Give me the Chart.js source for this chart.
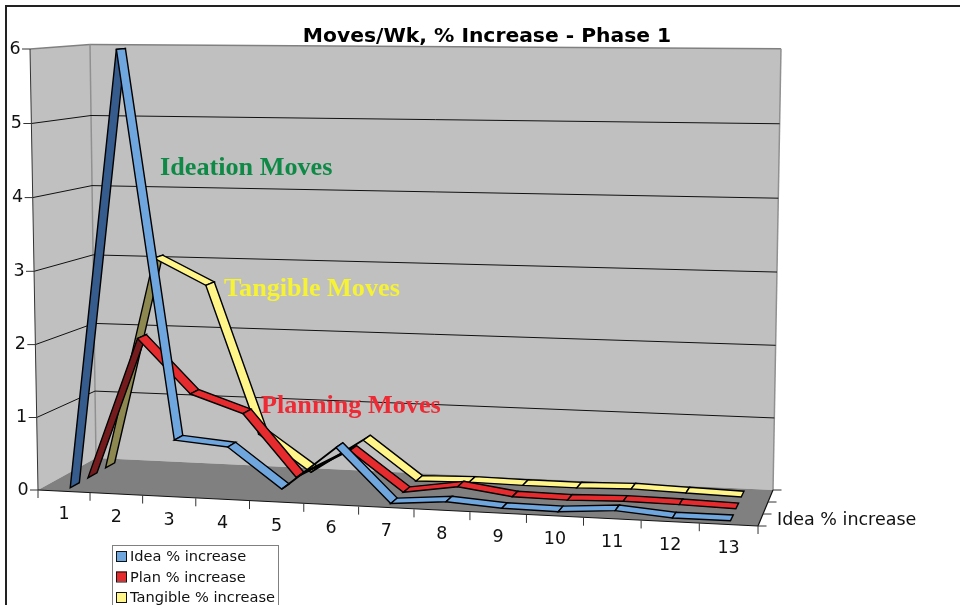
<!DOCTYPE html>
<html><head><meta charset="utf-8">
<style>html,body{margin:0;padding:0;background:#fff}canvas{display:block}</style>
<script src="https://cdn.jsdelivr.net/npm/chart.js@4"></script>
</head><body><canvas id="c" width="960" height="605"></canvas>
<script>
const categories=['1','2','3','4','5','6','7','8','9','10','11','12','13'];
const ideaValues=[0,6,0.72,0.66,0.13,0.72,0.01,0.07,0.02,0.01,0.06,0,0];
const planValues=[0,1.97,1.23,0.99,0.15,0.55,0.02,0.13,0.03,0.02,0.04,0.03,0.01];
const tangibleValues=[0,3.0,2.64,0.58,0.08,0.56,0.03,0.05,0.04,0.04,0.06,0.04,0.02];
const seriesNames=['Idea % increase','Plan % increase','Tangible % increase'];
const depthLabel='Idea % increase';
const titleText='Moves/Wk, % Increase - Phase 1';
const notes=[
 {text:'Ideation Moves',color:'#0E8A46',x:160,y:175},
 {text:'Tangible Moves',color:'#F6F234',x:224,y:296},
 {text:'Planning Moves',color:'#EE2A35',x:261,y:413}];
const lightColors=['#6FA6DE','#E52B2E','#FFF588'];
const darkColors=['#355C8C','#741B1E','#8C8850'];
const depthBands=[[0.11,0.27],[0.42,0.58],[0.73,0.89]];

const lerp=(a,b,t)=>a+(b-a)*t;
const Fx=u=>38+51.76*u+0.279*u*u, Bx=u=>96+49.8*u+0.175*u*u;
const Fy=u=>490+u*36/13, By=u=>458+u*32/13;
function project(u,d,v){
  const t=u/13;
  const h=lerp(lerp(73.5,78,t),lerp(69,73.67,t),d);
  const lean=lerp(-1.33,1.33,t)*(1-d)+lerp(-1,1.33,t)*d;
  return {x:lerp(Fx(u),Bx(u),d)+lean*v,y:lerp(Fy(u),By(u),d)-h*v};
}
function poly(ctx,pts,fill,stroke,lw){
  ctx.beginPath();pts.forEach((p,i)=>i?ctx.lineTo(p.x,p.y):ctx.moveTo(p.x,p.y));ctx.closePath();
  if(fill){ctx.fillStyle=fill;ctx.fill();}
  if(stroke){ctx.strokeStyle=stroke;ctx.lineWidth=lw||1;ctx.stroke();}
}
function seg(ctx,x0,y0,x1,y1,c,w){ctx.beginPath();ctx.moveTo(x0,y0);ctx.lineTo(x1,y1);ctx.strokeStyle=c;ctx.lineWidth=w||1;ctx.stroke();}

const scene={
 id:'scene',
 beforeDatasetsDraw(chart){
  const ctx=chart.ctx,y=chart.scales.y,x=chart.scales.x;
  ctx.save();
  ctx.fillStyle='#222';ctx.fillRect(5,5,955,2);ctx.fillRect(5,5,2,600);
  const yv=y.ticks.map(t=>t.value);
  const frontL=v=>({x:38-1.33*v,y:y.getPixelForValue(v)+0.2*v*(6-v)});
  const backL=v=>({x:96-v,y:458-(66.5*v+0.4*v*v)});
  const backR=v=>({x:773+1.33*v,y:490-(71.75*v+0.3*v*v)});
  poly(ctx,[frontL(0),frontL(6),backL(6),backL(0)],'#C0C0C0');
  poly(ctx,[backL(0),backL(6),backR(6),backR(0)],'#C0C0C0');
  seg(ctx,backL(6).x,backL(6).y,backR(6).x,backR(6).y,'#808080',1.5);
  seg(ctx,frontL(6).x,frontL(6).y,backL(6).x,backL(6).y,'#808080',1.5);
  seg(ctx,backL(6).x,backL(6).y,backL(0).x,backL(0).y,'#909090',1.5);
  seg(ctx,backR(6).x,backR(6).y,backR(0).x,backR(0).y,'#909090',1.5);
  const fr={x:758,y:526};
  poly(ctx,[frontL(0),backL(0),backR(0),fr],'#808080');
  yv.forEach(v=>{
   if(v<=0||v>=6)return;
   const a=frontL(v),b=backL(v),c=backR(v);
   seg(ctx,a.x,a.y,b.x,b.y,'#111',1);
   seg(ctx,b.x,b.y,c.x,c.y,'#111',1);
  });
  seg(ctx,frontL(6).x,frontL(6).y,frontL(0).x,frontL(0).y,'#333',1);
  ctx.font='17.5px "DejaVu Sans"';ctx.fillStyle='#111';ctx.textAlign='center';ctx.textBaseline='middle';
  yv.forEach(v=>{
   const a=frontL(v);
   seg(ctx,a.x-8,a.y,a.x,a.y,'#333',1);
   ctx.fillStyle='#111';ctx.fillText(String(v),a.x-15,a.y);
  });
  seg(ctx,38,490,758,526,'#111',1.2);
  seg(ctx,758,526,773,490,'#111',1.2);
  for(let t=0;t<=categories.length;t++){
   const px=Fx(t),py=Fy(t);
   seg(ctx,px,py,px,py+8,'#333',1);
  }
  const W=x.right-x.left;
  categories.forEach((c,i)=>{
   const u=(x.getPixelForValue(i)-x.left)/W*13;
   ctx.fillStyle='#111';ctx.fillText(c,Fx(u),Fy(u)+23.5);
  });
  [0,1,2,3].forEach(k=>{
   const px=lerp(758,773,k/3),py=lerp(526,490,k/3);
   seg(ctx,px,py,px+8.5,py,'#333',1);
  });
  ctx.textAlign='left';ctx.fillStyle='#111';
  ctx.fillText(depthLabel,777,520);
  ctx.restore();
 },
 afterDatasetsDraw(chart){
  const ctx=chart.ctx,xs=chart.scales.x,ys=chart.scales.y,W=xs.right-xs.left;
  ctx.save();
  ctx.lineJoin='miter';
  [2,1,0].forEach(k=>{
   const meta=chart.getDatasetMeta(k),[d0,d1]=depthBands[k];
   const pts=meta.data.map(e=>({u:(e.x-xs.left)/W*13,v:ys.getValueForPixel(e.y)}));
   for(let i=0;i<pts.length-1;i++){
    const a=pts[i],b=pts[i+1];
    const A=project(a.u,d0,a.v),B=project(b.u,d0,b.v),C=project(b.u,d1,b.v),D=project(a.u,d1,a.v);
    const rising=A.y-B.y>20;
    poly(ctx,[A,B,C,D],rising?darkColors[k]:lightColors[k],'#000',1.4);
   }
  });
  ctx.textBaseline='alphabetic';ctx.textAlign='center';ctx.fillStyle='#000';
  ctx.font='bold 20.3px "DejaVu Sans"';
  ctx.fillText(titleText,487,42);
  ctx.textAlign='left';
  ctx.font='bold 26.2px "Liberation Serif"';
  notes.forEach(n=>{ctx.fillStyle=n.color;ctx.fillText(n.text,n.x,n.y);});
  ctx.fillStyle='#fff';ctx.fillRect(112,545,167,62);
  ctx.strokeStyle='#808080';ctx.lineWidth=1;ctx.strokeRect(112.5,545.5,166,62);
  ctx.font='14.6px "DejaVu Sans"';
  chart.data.datasets.forEach((ds,k)=>{
   const ry=551+k*20.5;
   ctx.fillStyle=lightColors[k];ctx.fillRect(116,ry,11,10);
   ctx.strokeStyle='#111';ctx.strokeRect(116.5,ry+.5,10,10);
   ctx.fillStyle='#111';ctx.fillText(ds.label,130,ry+10);
  });
  ctx.restore();
 }
};
new Chart(document.getElementById('c'),{
 type:'line',
 data:{labels:categories,datasets:[
  {label:seriesNames[0],data:ideaValues,showLine:false,pointRadius:0,borderColor:lightColors[0],backgroundColor:lightColors[0]},
  {label:seriesNames[1],data:planValues,showLine:false,pointRadius:0,borderColor:lightColors[1],backgroundColor:lightColors[1]},
  {label:seriesNames[2],data:tangibleValues,showLine:false,pointRadius:0,borderColor:lightColors[2],backgroundColor:lightColors[2]}
 ]},
 options:{
  responsive:false,animation:false,
  layout:{padding:{left:38,right:202,top:49,bottom:115}},
  plugins:{legend:{display:false},title:{display:false},tooltip:{enabled:false}},
  scales:{
   x:{type:'category',offset:true,display:false},
   y:{type:'linear',min:0,max:6,display:false,ticks:{stepSize:1}}
  }
 },
 plugins:[scene]
});
</script></body></html>
